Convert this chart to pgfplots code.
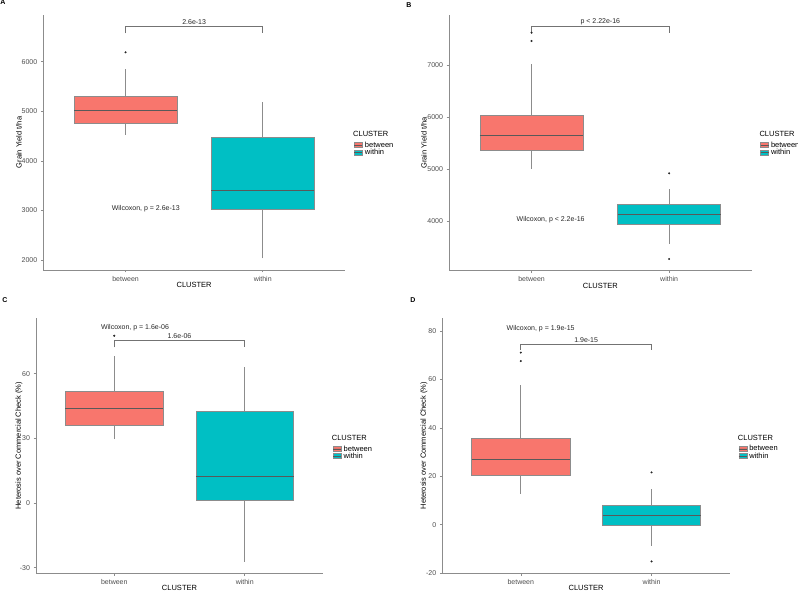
\documentclass[border=0pt]{standalone}
\usepackage{fontspec}
\setmainfont{Liberation Sans}
\usepackage{pgfplots}
\pgfplotsset{compat=1.18}
\definecolor{cRed}{HTML}{F8766D}
\definecolor{cCyan}{HTML}{00BFC4}
\definecolor{tickc}{HTML}{4D4D4D}
% #1 left, #2 centre, #3 right, #4 colour, #5 lower whisker, #6 Q1, #7 median, #8 Q3, #9 upper whisker
\newcommand{\gbox}[9]{%
  \addplot[black!45, line width=0.6pt, forget plot] coordinates {(#2,#5) (#2,#6)};
  \addplot[black!45, line width=0.6pt, forget plot] coordinates {(#2,#8) (#2,#9)};
  \addplot[fill=#4, draw=black!45, line width=0.6pt, forget plot] coordinates {(#1,#6) (#3,#6) (#3,#8) (#1,#8)} -- cycle;
  \addplot[black!65, line width=0.9pt, forget plot] coordinates {(#1,#7) (#3,#7)};
}
\pgfplotsset{
  gg/.style={
    scale only axis, clip=false,
    axis x line*=bottom, axis y line*=left,
    axis line style={black!45, line width=0.6pt, -},
    xmin=0.4, xmax=2.6, xtick={1,2}, xticklabels={between,within},
    tick align=outside, major tick length=2.5pt,
    tick style={black!45, line width=0.5pt},
    ticklabel style={font=\fontsize{7}{8}\selectfont, text=tickc},
    /pgf/number format/assume math mode=true,
    /pgf/number format/1000 sep={},
    label style={font=\fontsize{7.5}{8}\selectfont},
    xlabel={CLUSTER},
    legend style={draw=none, fill=none, inner sep=0pt, font=\fontsize{7.5}{8}\selectfont,
      anchor=north west, row sep=0pt,
      nodes={inner sep=0.3pt, text height=5.4pt, text depth=1.2pt},
      cells={anchor=west}},
    legend image code/.code={\draw[##1, draw=black!45, line width=0.5pt] (0pt,-2.5pt) rectangle (8pt,2.5pt); \draw[black!65, line width=0.6pt] (0pt,0pt) -- (8pt,0pt); \path (10pt,0pt);},
  },
  outl/.style={only marks, mark=*, mark size=0.8pt, black!85, forget plot},
}
\begin{document}
\begin{tikzpicture}
\useasboundingbox (0,0) rectangle (798pt,591pt);
% Panel A
\begin{axis}[gg, at={(43.3pt,321pt)}, anchor=south west, width=301.7pt, height=255pt,
  ymin=1800, ymax=6943, ytick={2000,3000,4000,5000,6000},
  ylabel={Grain Yield t/ha}, ylabel style={at={(axis description cs:-0.0805,0.5)}, anchor=center},
  xlabel style={at={(axis description cs:0.5,-0.0588)}, anchor=center},
  legend style={at={(axis description cs:1.0298,0.5047)}}]
\gbox{0.625}{1}{1.375}{cRed}{4529}{4751}{5020}{5303}{5853}
\gbox{1.625}{2}{2.375}{cCyan}{2034}{3020}{3408}{4483}{5182}
\addplot[outl] coordinates {(1,6190)};
\addplot[black!55, line width=0.6pt, forget plot] coordinates {(1,6574) (1,6707) (2,6707) (2,6574)};
\node[anchor=south, inner sep=1.5pt, font=\fontsize{7}{8}\selectfont, text=black!85] at (axis cs:1.5,6707) {2.6e-13};
\node[font=\fontsize{7}{8}\selectfont, text=black!85] at (axis cs:1.147,3030) {Wilcoxon, p = 2.6e-13};
\node[anchor=west, inner sep=0pt, font=\fontsize{7.5}{8}\selectfont] at (axis description cs:1.0265,0.5333) {CLUSTER};
\addlegendimage{fill=cRed}\addlegendentry{between}
\addlegendimage{fill=cCyan}\addlegendentry{within}
\end{axis}
% Panel B
\begin{axis}[gg, at={(449pt,320.3pt)}, anchor=south west, width=302.7pt, height=255.7pt,
  ymin=3044, ymax=7962, ytick={4000,5000,6000,7000},
  ylabel={Grain Yield t/ha}, ylabel style={at={(axis description cs:-0.0826,0.5)}, anchor=center},
  xlabel style={at={(axis description cs:0.5,-0.0588)}, anchor=center},
  legend style={at={(axis description cs:1.0274,0.5061)}}]
\gbox{0.625}{1}{1.375}{cRed}{5008}{5360}{5648}{6027}{7010}
\gbox{1.625}{2}{2.375}{cCyan}{3558}{3937}{4129}{4313}{4610}
\addplot[outl] coordinates {(1,7621) (1,7462) (2,4917) (2,3269)};
\addplot[black!55, line width=0.6pt, forget plot] coordinates {(1,7610) (1,7737) (2,7737) (2,7610)};
\node[anchor=south, inner sep=1.5pt, font=\fontsize{7}{8}\selectfont, text=black!85] at (axis cs:1.5,7737) {p < 2.22e-16};
\node[font=\fontsize{7}{8}\selectfont, text=black!85] at (axis cs:1.139,4020) {Wilcoxon, p < 2.2e-16};
\node[anchor=west, inner sep=0pt, font=\fontsize{7.5}{8}\selectfont] at (axis description cs:1.0251,0.5346) {CLUSTER};
\addlegendimage{fill=cRed}\addlegendentry{between}
\addlegendimage{fill=cCyan}\addlegendentry{within}
\end{axis}
% Panel C
\begin{axis}[gg, at={(36pt,17.7pt)}, anchor=south west, width=287pt, height=255pt,
  ymin=-32.6, ymax=85.7, ytick={-30,0,30,60},
  ylabel={Heterosis over Commercial Check (\%)}, ylabel style={at={(axis description cs:-0.0592,0.5)}, anchor=center},
  xlabel style={at={(axis description cs:0.5,-0.0565)}, anchor=center},
  legend style={at={(axis description cs:1.0338,0.5024)}}]
\gbox{0.625}{1}{1.375}{cRed}{29.6}{36.1}{43.8}{52.0}{68.2}
\gbox{1.625}{2}{2.375}{cCyan}{-27.2}{1.2}{12.3}{42.7}{63.2}
\addplot[outl] coordinates {(1,77.6)};
\addplot[black!55, line width=0.6pt, forget plot] coordinates {(1,72.2) (1,75.5) (2,75.5) (2,72.2)};
\node[anchor=south, inner sep=1.5pt, font=\fontsize{7}{8}\selectfont, text=black!85] at (axis cs:1.5,75.5) {1.6e-06};
\node[font=\fontsize{7}{8}\selectfont, text=black!85] at (axis cs:1.159,81.3) {Wilcoxon, p = 1.6e-06};
\node[anchor=west, inner sep=0pt, font=\fontsize{7.5}{8}\selectfont] at (axis description cs:1.0303,0.5318) {CLUSTER};
\addlegendimage{fill=cRed}\addlegendentry{between}
\addlegendimage{fill=cCyan}\addlegendentry{within}
\end{axis}
% Panel D
\begin{axis}[gg, at={(442.3pt,17.7pt)}, anchor=south west, width=287.7pt, height=255.3pt,
  ymin=-20.1, ymax=85.4, ytick={-20,0,20,40,60,80},
  ylabel={Heterosis over Commercial Check (\%)}, ylabel style={at={(axis description cs:-0.0636,0.5)}, anchor=center},
  xlabel style={at={(axis description cs:0.5,-0.0565)}, anchor=center},
  legend style={at={(axis description cs:1.0289,0.5024)}}]
\gbox{0.625}{1}{1.375}{cRed}{12.7}{20.5}{27.1}{35.5}{57.6}
\gbox{1.625}{2}{2.375}{cCyan}{-8.7}{-0.4}{4.0}{8.0}{14.9}
\addplot[outl] coordinates {(1,71.1) (1,67.6) (2,21.6) (2,-15.2)};
\addplot[black!55, line width=0.6pt, forget plot] coordinates {(1,72.3) (1,74.7) (2,74.7) (2,72.3)};
\node[anchor=south, inner sep=1.5pt, font=\fontsize{7}{8}\selectfont, text=black!85] at (axis cs:1.5,74.7) {1.9e-15};
\node[font=\fontsize{7}{8}\selectfont, text=black!85] at (axis cs:1.152,81.1) {Wilcoxon, p = 1.9e-15};
\node[anchor=west, inner sep=0pt, font=\fontsize{7.5}{8}\selectfont] at (axis description cs:1.0268,0.5318) {CLUSTER};
\addlegendimage{fill=cRed}\addlegendentry{between}
\addlegendimage{fill=cCyan}\addlegendentry{within}
\end{axis}
\node[font=\bfseries\fontsize{7}{8}\selectfont] at (3pt,589pt) {A};
\node[font=\bfseries\fontsize{7}{8}\selectfont] at (409pt,586pt) {B};
\node[font=\bfseries\fontsize{7}{8}\selectfont] at (5pt,291pt) {C};
\node[font=\bfseries\fontsize{7}{8}\selectfont] at (413pt,291pt) {D};
\end{tikzpicture}
\end{document}
